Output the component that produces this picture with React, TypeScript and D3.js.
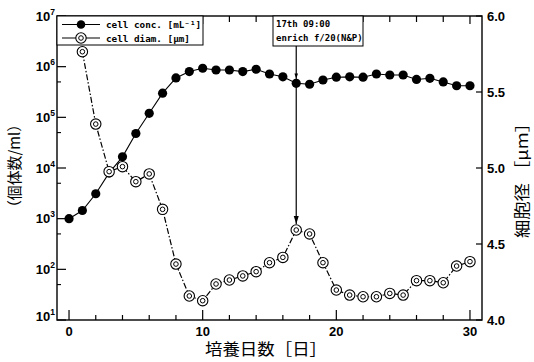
import React from 'react';
import * as d3 from 'd3';

const days = [0, 1, 2, 3, 4, 5, 6, 7, 8, 9, 10, 11, 12, 13, 14, 15, 16, 17, 18, 19, 20, 21, 22, 23, 24, 25, 26, 27, 28, 29, 30];
const cellConc = [1000, 1450, 3100, 8000, 16600, 48000, 120000, 300000, 600000, 800000, 930000, 860000, 860000, 800000, 890000, 716000, 630000, 470000, 450000, 545000, 620000, 630000, 620000, 716000, 685000, 685000, 560000, 590000, 500000, 420000, 420000];
const diamDays = [1, 2, 3, 4, 5, 6, 7, 8, 9, 10, 11, 12, 13, 14, 15, 16, 17, 18, 19, 20, 21, 22, 23, 24, 25, 26, 27, 28, 29, 30];
const cellDiam = [5.765, 5.289, 4.976, 5.009, 4.91, 4.961, 4.728, 4.368, 4.158, 4.127, 4.237, 4.263, 4.29, 4.318, 4.377, 4.412, 4.592, 4.566, 4.377, 4.197, 4.164, 4.153, 4.153, 4.175, 4.164, 4.259, 4.259, 4.245, 4.355, 4.384];

const concExponents = [1, 2, 3, 4, 5, 6, 7];
const diamTicks = [4.0, 4.5, 5.0, 5.5, 6.0];
const dayLabelTicks = [0, 10, 20, 30];
const dayMinorTicks = [0, 2, 4, 6, 8, 10, 12, 14, 16, 18, 20, 22, 24, 26, 28, 30];
const legendLabels = ['cell conc. [mL⁻¹]', 'cell diam. [μm]'];
const noteLines = ['17th 09:00', 'enrich f/20(N&P)'];
const noteDay = 17;
const xTitle = '培養日数［日］';
const yLeftTitle = '（個体数/ml）';
const yRightTitle = '細胞径 ［μm］';

const L = 57, R = 482, T = 16, B = 320;
const tickFont = '"Liberation Sans", Arial, sans-serif';
const monoFont = '"DejaVu Sans Mono", monospace';
const cjkFont = '"Noto Sans CJK JP", sans-serif';

function DiamMarker({ x, y }: { x: number; y: number }) {
  return (
    <g>
      <circle cx={x} cy={y} r={5.2} fill="#fff" stroke="#000" strokeWidth={1.1} />
      <circle cx={x} cy={y} r={2.3} fill="none" stroke="#000" strokeWidth={1} />
    </g>
  );
}

export default function App() {
  const x = d3.scaleLinear().domain([-0.9, 30.9]).range([L, R]);
  const yL = d3.scaleLog().domain([10, 1e7]).range([B, T]);
  const yR = d3.scaleLinear().domain([4, 6]).range([B, T]);

  const concLine = d3.line<number>().x((_, i) => x(days[i])).y((d) => yL(d))(cellConc) || '';
  const diamLine = d3.line<number>().x((_, i) => x(diamDays[i])).y((d) => yR(d))(cellDiam) || '';

  const minorLog: number[] = [];
  concExponents.forEach((e) => {
    if (e < 7) minorLog.push(5 * Math.pow(10, e));
  });

  const ax = x(noteDay);
  const idxDiam = diamDays.indexOf(noteDay);
  const idxConc = days.indexOf(noteDay);
  const arrowEnd = yR(cellDiam[idxDiam]) - 6;
  const concArrowEnd = yL(cellConc[idxConc]) - 4.8;

  return (
    <svg width={534} height={362} style={{ position: 'absolute', left: 0, top: 0, background: '#fff' }}>
      <rect x={0} y={0} width={534} height={362} fill="#fff" />
      {/* ticks */}
      {dayMinorTicks.map((d) => {
        const big = dayLabelTicks.includes(d);
        return (
          <g key={'xt' + d}>
            <line x1={x(d)} x2={x(d)} y1={B} y2={B - (big ? 10 : 5)} stroke="#000" strokeWidth={1.2} />
            <line x1={x(d)} x2={x(d)} y1={T} y2={T + (big ? 8 : 6)} stroke="#000" strokeWidth={1.2} />
          </g>
        );
      })}
      {concExponents.map((e) => (
        <line key={'yl' + e} x1={L} x2={L + 9} y1={yL(Math.pow(10, e))} y2={yL(Math.pow(10, e))} stroke="#000" strokeWidth={1.2} />
      ))}
      {minorLog.map((v) => (
        <line key={'ym' + v} x1={L} x2={L + 4} y1={yL(v)} y2={yL(v)} stroke="#000" strokeWidth={1.1} />
      ))}
      {diamTicks.map((v) => (
        <line key={'yr' + v} x1={R} x2={R - 6} y1={yR(v)} y2={yR(v)} stroke="#000" strokeWidth={1.2} />
      ))}
      {/* frame */}
      <rect x={L} y={T} width={R - L} height={B - T} fill="none" stroke="#000" strokeWidth={1.4} />

      {/* tick labels */}
      {concExponents.map((e) => (
        <text key={'ll' + e} x={55} y={Math.min(yL(Math.pow(10, e)) + 4.8, 321)} textAnchor="end" fontFamily={tickFont} fontWeight="bold" fontSize={13}>
          <tspan>10</tspan>
          <tspan fontSize={8.5} dy={-6}>{e}</tspan>
        </text>
      ))}
      {diamTicks.map((v) => (
        <text key={'rl' + v} x={487} y={yR(v) + 4.6} fontFamily={tickFont} fontWeight="bold" fontSize={13}>
          {v.toFixed(1)}
        </text>
      ))}
      {dayLabelTicks.map((d) => (
        <text key={'xl' + d} x={x(d)} y={336} textAnchor="middle" fontFamily={tickFont} fontWeight="bold" fontSize={13}>
          {d}
        </text>
      ))}

      {/* axis titles */}
      <text x={266} y={355} textAnchor="middle" fontFamily={cjkFont} fontSize={16} textLength={122} lengthAdjust="spacingAndGlyphs">
        {xTitle}
      </text>
      <text transform="translate(20,166) rotate(-90)" textAnchor="middle" fontFamily={cjkFont} fontSize={15} textLength={98} lengthAdjust="spacingAndGlyphs">
        {yLeftTitle}
      </text>
      <text transform="translate(528,176) rotate(-90)" textAnchor="middle" fontFamily={cjkFont} fontSize={15.5} textLength={124} lengthAdjust="spacingAndGlyphs">
        {yRightTitle}
      </text>

      {/* arrow */}
      <line x1={ax} x2={ax} y1={46} y2={arrowEnd} stroke="#000" strokeWidth={1.2} />
      <polygon points={`${ax - 2.5},${arrowEnd - 8} ${ax + 2.5},${arrowEnd - 8} ${ax},${arrowEnd}`} fill="#000" />
      <polygon points={`${ax - 1.8},${concArrowEnd - 5} ${ax + 1.8},${concArrowEnd - 5} ${ax},${concArrowEnd}`} fill="#000" />

      {/* lines */}
      <path d={concLine} fill="none" stroke="#000" strokeWidth={1.1} />
      <path d={diamLine} fill="none" stroke="#000" strokeWidth={1.2} strokeDasharray="6,2,1.5,2" />

      {/* markers */}
      {cellConc.map((v, i) => (
        <circle key={'c' + i} cx={x(days[i])} cy={yL(v)} r={4.6} fill="#000" />
      ))}
      {cellDiam.map((v, i) => (
        <DiamMarker key={'d' + i} x={x(diamDays[i])} y={yR(v)} />
      ))}

      {/* legend */}
      <rect x={L} y={T} width={146} height={29} fill="#fff" stroke="#000" strokeWidth={1} />
      <line x1={62} x2={100} y1={24.5} y2={24.5} stroke="#000" strokeWidth={1.2} />
      <circle cx={81} cy={24.5} r={4.3} fill="#000" />
      <line x1={62} x2={100} y1={38} y2={38} stroke="#000" strokeWidth={1.2} />
      <DiamMarker x={81} y={38} />
      {legendLabels.map((t, i) => (
        <text key={'lg' + i} x={106} y={28 + i * 13.5} fontFamily={monoFont} fontWeight="bold" fontSize={9.3}>
          {t}
        </text>
      ))}

      {/* note */}
      <rect x={273} y={T} width={90} height={30} fill="#fff" stroke="#000" strokeWidth={1} />
      {noteLines.map((t, i) => (
        <text key={'nt' + i} x={276} y={26.5 + i * 14} fontFamily={monoFont} fontWeight="bold" fontSize={9}>
          {t}
        </text>
      ))}
    </svg>
  );
}
